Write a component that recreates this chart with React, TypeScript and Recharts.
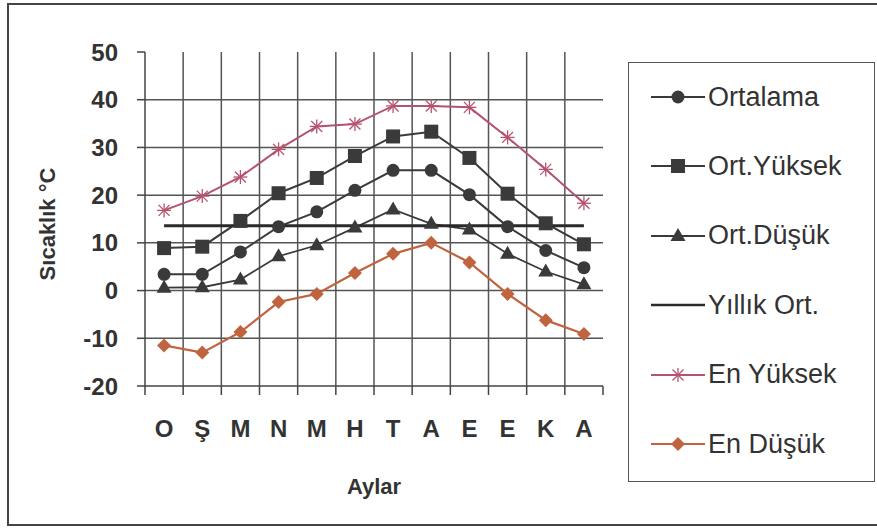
import React from "react";
import { LineChart, Line, XAxis, YAxis, CartesianGrid } from "recharts";

const MONTHS = ["O", "Ş", "M", "N", "M", "H", "T", "A", "E", "E", "K", "A"];
const ORTALAMA = [3.4, 3.4, 8.1, 13.4, 16.5, 21.0, 25.2, 25.2, 20.1, 13.4, 8.4, 4.8];
const ORT_YUKSEK = [8.9, 9.2, 14.6, 20.4, 23.6, 28.2, 32.3, 33.3, 27.8, 20.3, 14.1, 9.7];
const ORT_DUSUK = [0.6, 0.7, 2.3, 7.2, 9.5, 13.2, 17.0, 14.0, 12.8, 7.7, 4.0, 1.3];
const YILLIK_ORT = [13.6, 13.6, 13.6, 13.6, 13.6, 13.6, 13.6, 13.6, 13.6, 13.6, 13.6, 13.6];
const EN_YUKSEK = [16.8, 19.8, 23.8, 29.6, 34.4, 34.9, 38.7, 38.7, 38.4, 32.1, 25.4, 18.3];
const EN_DUSUK = [-11.5, -13.0, -8.7, -2.4, -0.7, 3.7, 7.7, 10.0, 5.9, -0.7, -6.2, -9.1];
const Y_MIN = -20;
const Y_MAX = 50;
const Y_TICKS = [-20, -10, 0, 10, 20, 30, 40, 50];
const Y_GRID = [-10, 0, 10, 20, 30, 40];
const X_GRID = [1, 2, 3, 4, 5, 6, 7, 8, 9, 10, 11];
const X_TICKS = [0, 1, 2, 3, 4, 5, 6, 7, 8, 9, 10, 11, 12];

const data = MONTHS.map((m, i) => ({
  x: i + 0.5,
  ortalama: ORTALAMA[i],
  ortYuksek: ORT_YUKSEK[i],
  ortDusuk: ORT_DUSUK[i],
  yillik: YILLIK_ORT[i],
  enYuksek: EN_YUKSEK[i],
  enDusuk: EN_DUSUK[i],
}));

const DARK = "#3a3a3a";
const PINK = "#b5536e";
const BROWN = "#c0643f";
const FONT = "'Liberation Sans', Arial, sans-serif";

type Shape = "circle" | "square" | "triangle" | "none" | "star" | "diamond";

function Marker({ shape, cx, cy, color }: { shape: Shape; cx: number; cy: number; color: string }) {
  switch (shape) {
    case "circle":
      return <circle cx={cx} cy={cy} r={6.5} fill={color} />;
    case "square":
      return <rect x={cx - 7} y={cy - 7} width={14} height={14} fill={color} />;
    case "triangle":
      return <polygon points={`${cx},${cy - 8} ${cx + 7.5},${cy + 5} ${cx - 7.5},${cy + 5}`} fill={color} />;
    case "diamond":
      return <polygon points={`${cx},${cy - 7} ${cx + 7},${cy} ${cx},${cy + 7} ${cx - 7},${cy}`} fill={color} />;
    case "star":
      return (
        <g stroke={color} strokeWidth={1.3}>
          <line x1={cx - 7} y1={cy} x2={cx + 7} y2={cy} />
          <line x1={cx} y1={cy - 7} x2={cx} y2={cy + 7} />
          <line x1={cx - 5.5} y1={cy - 5.5} x2={cx + 5.5} y2={cy + 5.5} />
          <line x1={cx - 5.5} y1={cy + 5.5} x2={cx + 5.5} y2={cy - 5.5} />
        </g>
      );
    default:
      return null;
  }
}

const SERIES: { key: string; name: string; color: string; shape: Shape; width: number }[] = [
  { key: "ortalama", name: "Ortalama", color: DARK, shape: "circle", width: 2 },
  { key: "ortYuksek", name: "Ort.Yüksek", color: DARK, shape: "square", width: 2 },
  { key: "ortDusuk", name: "Ort.Düşük", color: DARK, shape: "triangle", width: 1.8 },
  { key: "yillik", name: "Yıllık Ort.", color: "#2a2a2a", shape: "none", width: 3 },
  { key: "enYuksek", name: "En Yüksek", color: PINK, shape: "star", width: 2 },
  { key: "enDusuk", name: "En Düşük", color: BROWN, shape: "diamond", width: 2.2 },
];

function LegendBox() {
  return (
    <div
      style={{
        position: "absolute",
        left: 628,
        top: 62,
        width: 247,
        height: 420,
        boxSizing: "border-box",
        border: "1.5px solid #555",
        background: "#fff",
        fontFamily: FONT,
      }}
    >
      {SERIES.map((s, i) => (
        <div key={s.key} style={{ position: "absolute", left: 22, top: 34 + i * 69.4 - 18, height: 36, display: "flex", alignItems: "center", whiteSpace: "nowrap" }}>
          <svg width={56} height={24}>
            <line x1={0} y1={12} x2={54} y2={12} stroke={s.color} strokeWidth={s.key === "yillik" ? 2.5 : 1.8} />
            <Marker shape={s.shape} cx={27} cy={12} color={s.color} />
          </svg>
          <span style={{ fontSize: 27, color: "#333", marginLeft: 1 }}>{s.name}</span>
        </div>
      ))}
    </div>
  );
}

function YTitle() {
  return (
    <svg width={80} height={532} style={{ position: "absolute", left: 0, top: 0 }}>
      <text
        x={47}
        y={224}
        transform="rotate(-90 47 224)"
        textAnchor="middle"
        dominantBaseline="central"
        fill="#333"
        fontSize={22}
        fontWeight={700}
        fontFamily={FONT}
      >
        Sıcaklık °C
      </text>
    </svg>
  );
}

export default function App() {
  const tickStyle = { fill: "#333", fontSize: 24, fontWeight: 700, fontFamily: FONT };
  return (
    <div style={{ position: "absolute", left: 0, top: 0, width: 877, height: 532, overflow: "hidden", background: "#fff" }}>
      <div
        style={{
          position: "absolute",
          left: 7,
          top: 3,
          width: 880,
          height: 523,
          border: "2.5px solid #444",
          boxSizing: "border-box",
        }}
      />
      <LineChart
        width={877}
        height={532}
        data={data}
        margin={{ top: 52, right: 274, bottom: 0, left: 0 }}
        style={{ position: "absolute", left: 0, top: 0 }}
      >
        <CartesianGrid
          xAxisId="a"
          yAxisId="main"
          stroke="#555"
          strokeWidth={1.5}
          verticalCoordinatesGenerator={({ offset }: any) =>
            X_GRID.map((v) => offset.left + (offset.width * v) / 12)
          }
          horizontalCoordinatesGenerator={({ offset }: any) =>
            Y_GRID.map((v) => offset.top + (offset.height * (Y_MAX - v)) / (Y_MAX - Y_MIN))
          }
        />
        <XAxis
          xAxisId="b"
          dataKey="x"
          type="number"
          domain={[0, 12]}
          allowDataOverflow
          ticks={MONTHS.map((_, i) => i + 0.5)}
          tickFormatter={(v: number) => MONTHS[Math.floor(v)]}
          tick={tickStyle}
          tickLine={false}
          axisLine={false}
          tickSize={0}
          tickMargin={25}
          height={137}
          interval={0}
          label={{ value: "Aylar", position: "insideBottom", offset: 38, fill: "#333", fontSize: 22, fontWeight: 700, fontFamily: FONT }}
        />
        <XAxis
          xAxisId="a"
          dataKey="x"
          type="number"
          domain={[0, 12]}
          allowDataOverflow
          ticks={X_TICKS}
          tick={() => <g />}
          tickLine={{ stroke: "#444", strokeWidth: 1.5 }}
          tickSize={9}
          height={9}
          stroke="#444"
          strokeWidth={1.5}
          interval={0}
        />
        <YAxis
          yAxisId="main"
          type="number"
          domain={[Y_MIN, Y_MAX]}
          allowDataOverflow
          ticks={Y_TICKS}
          interval={0}
          width={145}
          tick={tickStyle}
          tickSize={8}
          tickMargin={19}
          stroke="#444"
          strokeWidth={1.5}
        />
        {SERIES.map((s) => (
          <Line
            key={s.key}
            xAxisId="a"
            yAxisId="main"
            dataKey={s.key}
            name={s.name}
            stroke={s.color}
            strokeWidth={s.width}
            isAnimationActive={false}
            dot={(p: any) => <Marker key={`${s.key}-${p.index}`} shape={s.shape} cx={p.cx} cy={p.cy} color={s.color} />}
            activeDot={false}
          />
        ))}
      </LineChart>
      <YTitle />
      <LegendBox />
    </div>
  );
}
